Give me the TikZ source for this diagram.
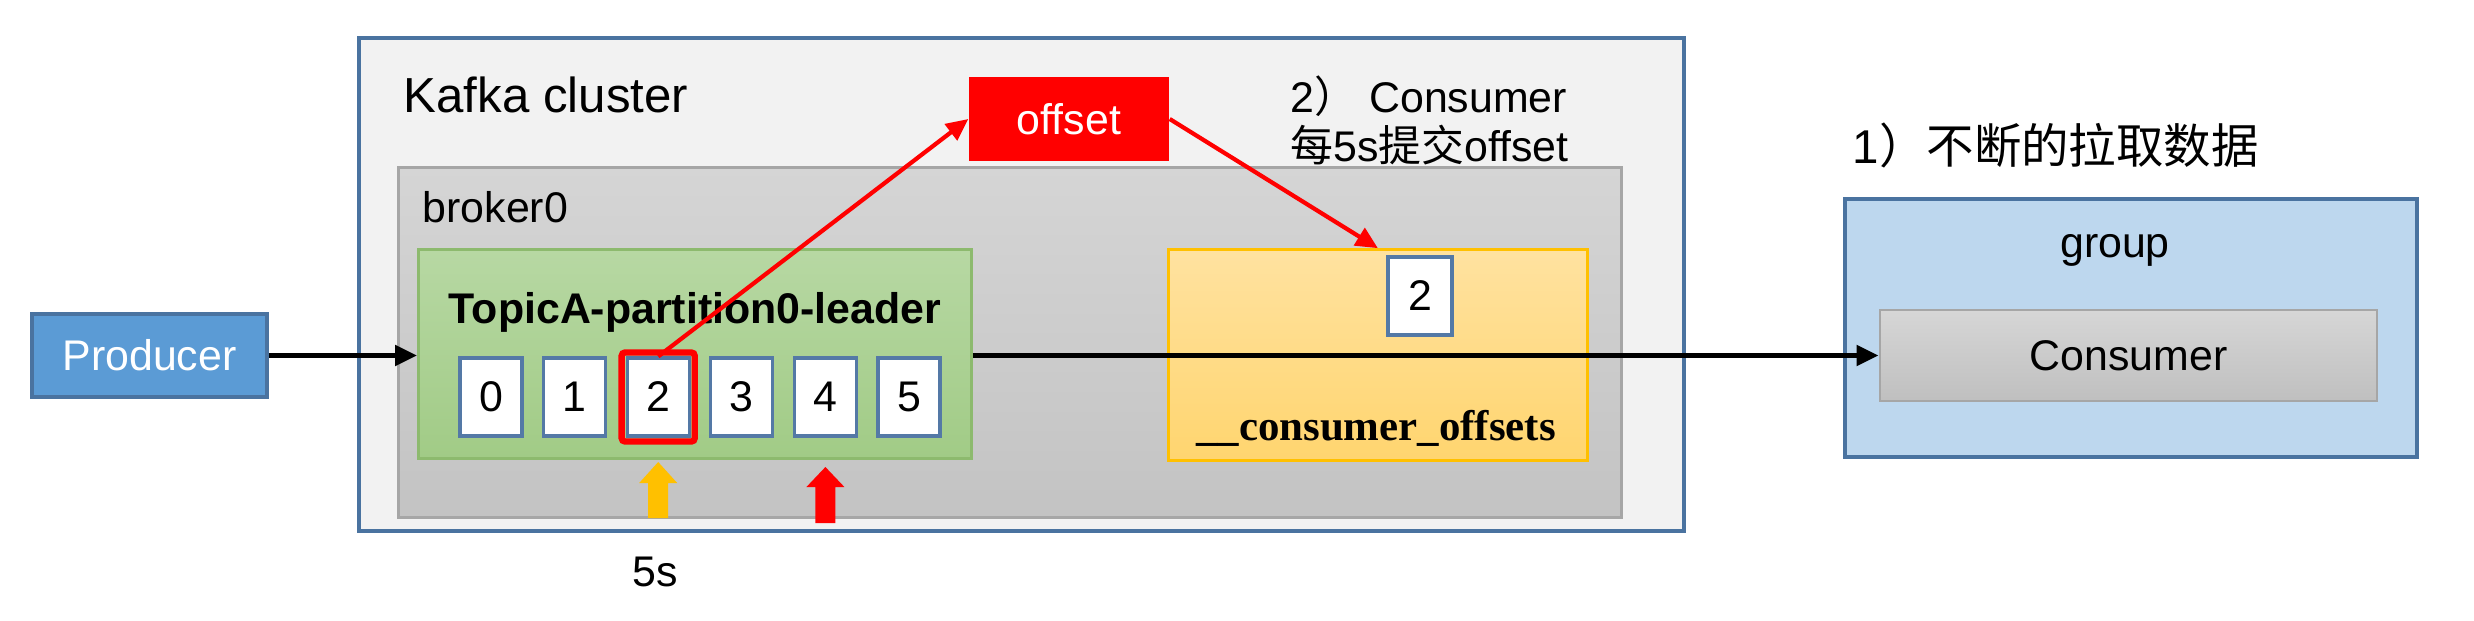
\documentclass[tikz,border=0pt]{standalone}
\usepackage{fontspec}
\setmainfont{Liberation Sans}
\newfontfamily\cjk{Noto Sans CJK SC}
\newfontfamily\timesbf{Liberation Serif}
\usetikzlibrary{arrows.meta, positioning, calc}

\definecolor{prodblue}{HTML}{5B9BD5}
\definecolor{edgeblue}{HTML}{4A73A0}
\definecolor{clustergray}{HTML}{F2F2F2}
\definecolor{brokeredge}{HTML}{A6A6A6}
\definecolor{greentop}{HTML}{B7D8A3}
\definecolor{greenbot}{HTML}{A1CB86}
\definecolor{greenedge}{HTML}{8DBA6E}
\definecolor{orangetop}{HTML}{FFE2A0}
\definecolor{orangebot}{HTML}{FFD56F}
\definecolor{orangeedge}{HTML}{FFC000}
\definecolor{groupblue}{HTML}{BDD7EE}
\definecolor{cellblue}{HTML}{5479A6}

\begin{document}
\begin{tikzpicture}[>={Triangle[length=0.22cm,width=0.2cm]},
    every node/.style={inner sep=0pt},
    txt/.style={font=\fontsize{12.2}{13.9}\selectfont},
    panel/.style={draw, line width=1pt, anchor=south west},
    cell/.style={draw=cellblue, line width=0.9pt, fill=white, minimum width=0.62cm, minimum height=0.78cm, txt},
    flow/.style={->, line width=1.4pt},
    commit/.style={->, red, line width=1.2pt}]
\useasboundingbox (0,0) rectangle (24.74,6.2);

% cluster and broker
\node[panel, draw=edgeblue, fill=clustergray, minimum width=13.25cm, minimum height=4.93cm] (cluster) at (3.57,0.87) {};
\node[txt, font=\fontsize{14}{16}\selectfont, anchor=base west] (clusterlbl) at (4.03,5.07) {Kafka cluster};
\node[panel, draw=brokeredge, line width=0.8pt, top color=gray!33, bottom color=gray!47, minimum width=12.23cm, minimum height=3.50cm] (broker) at (3.97,1.01) {};
\node[txt, anchor=base west] (brokerlbl) at (4.22,3.98) {broker0};

% partition
\node[panel, draw=greenedge, line width=0.8pt, top color=greentop, bottom color=greenbot, minimum width=5.53cm, minimum height=2.09cm] (topic) at (4.17,1.60) {};
\node[txt, font=\bfseries\fontsize{12.2}{13.9}\selectfont, anchor=base] (topiclbl) at (6.95,2.97) {TopicA-partition0-leader};
\foreach \i in {0,...,5}
  \node[cell] (c\i) at (4.91+0.836*\i,2.23) {\i};
\draw[red, line width=1.8pt, rounded corners=1pt] ($(c2.south west)+(-0.04,-0.04)$) rectangle ($(c2.north east)+(0.04,0.04)$);

% position markers
\fill[orangeedge] ($(c2)+(0,-0.65)$) coordinate (ytip) -- ++(0.19,-0.21) -- ++(-0.09,0) -- ++(0,-0.35)
  -- ++(-0.20,0) -- ++(0,0.35) -- ++(-0.09,0) -- cycle;
\fill[red] ($(c4)+(0,-0.70)$) coordinate (rtip) -- ++(0.19,-0.20) -- ++(-0.09,0) -- ++(0,-0.36)
  -- ++(-0.20,0) -- ++(0,0.36) -- ++(-0.09,0) -- cycle;
\node[txt] (fivesec) at (6.55,0.48) {5s};

% offsets topic
\node[panel, draw=orangeedge, line width=0.8pt, top color=orangetop, bottom color=orangebot, minimum width=4.19cm, minimum height=2.11cm] (offsets) at (11.67,1.58) {};
\node[cell, minimum width=0.64cm] (saved) at (14.20,3.24) {2};
\node[font=\timesbf\bfseries\fontsize{12.2}{13.9}\selectfont, anchor=base] (offsetslbl) at (13.76,1.80) {\_\_consumer\_offsets};

% commit
\node[fill=red, minimum width=2.0cm, minimum height=0.84cm, txt, text=white] (offset) at (10.69,5.01) {offset};
\node[txt, anchor=west, align=left] (commitlbl) at (12.90,5.0) {2{\cjk ）} Consumer\\{\cjk 每}5s{\cjk 提交}offset};
\draw[commit] (c2.north) -- (offset.west);
\draw[commit] (offset.east) -- (offsets.north);

% producer and consumer group
\node[draw=edgeblue, line width=1pt, fill=prodblue, minimum width=2.35cm, minimum height=0.83cm, txt, text=white] (producer) at (1.495,2.645) {Producer};
\node[panel, draw=edgeblue, fill=groupblue, minimum width=5.72cm, minimum height=2.58cm] (group) at (18.43,1.61) {};
\node[txt, anchor=base] (grouplbl) at (21.15,3.63) {group};
\node[draw=brokeredge, line width=0.8pt, top color=gray!32, bottom color=gray!50, minimum width=4.97cm, minimum height=0.91cm, txt] (consumer) at (21.285,2.645) {Consumer};
\node[txt, font=\fontsize{13.5}{15}\selectfont, anchor=west] (polllbl) at (18.52,4.75) {1{\cjk ）不断的拉取数据}};

\draw[flow] (producer.east) -- (topic.west |- producer.east);
\draw[flow] (topic.east |- consumer.west) -- (consumer.west);
\end{tikzpicture}
\end{document}
